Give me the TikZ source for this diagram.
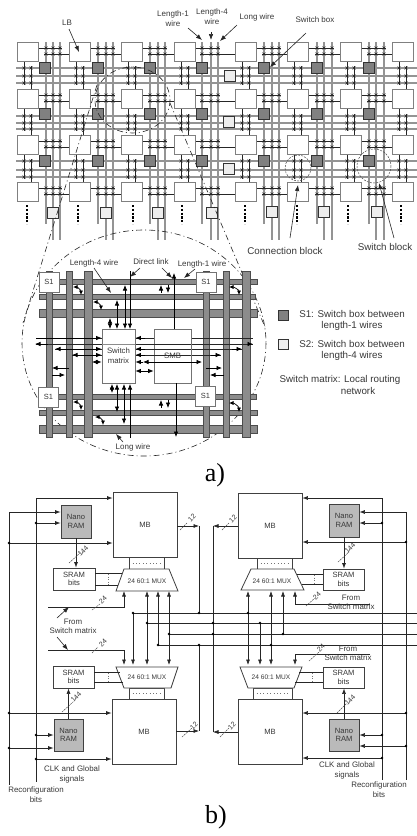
\documentclass[tikz,border=0pt]{standalone}
\usepackage{fontspec}
\setmainfont{Liberation Sans}
\newfontfamily\capfont{Liberation Serif}
\usetikzlibrary{arrows.meta}
\definecolor{ink}{gray}{0.22}
\definecolor{barg}{gray}{0.55}
\newcommand{\xmk}[2]{\draw[xmark] (#1-1.4,#2-1.4) -- (#1+1.4,#2+1.4) (#1-1.4,#2+1.4) -- (#1+1.4,#2-1.4);}
\newcommand{\fsz}[1]{\fontsize{#1}{#1}\selectfont}
\tikzset{
  xmark/.style={line width=.45pt,black!85},
  thin line/.style={line width=.55pt,black!85},
  wirebar/.style={line width=.5pt,draw=black!65,double=black!42,double distance=1.5pt},
  wirebarh/.style={line width=.5pt,draw=black!65,double=black!42,double distance=1.5pt},
  lbbox/.style={draw=black!50,line width=1pt,fill=white,minimum width=21pt,minimum height=19.5pt,inner sep=0pt},
  sonebox/.style={draw=black!80,line width=.9pt,fill=black!50,minimum size=10.5pt,inner sep=0pt},
  stwobox/.style={draw=black!80,line width=.9pt,fill=black!7,minimum size=11.5pt,inner sep=0pt},
  lab/.style={text=ink,inner sep=0pt,align=center,font=\fsz{8}},
  biglab/.style={text=ink,inner sep=0pt,align=center,font=\fsz{9.8}},
  dd/.style={line width=.6pt,black!85,dash pattern=on 6pt off 3pt on 1pt off 3pt},
  ptr/.style={line width=.6pt,black!85,-{Latex[length=6pt,width=4.5pt]}},
  arr/.style={line width=.7pt,black,-{Latex[length=5.5pt,width=4.5pt]}},
  arrb/.style={line width=.7pt,black,{Latex[length=5.5pt,width=4.5pt]}-{Latex[length=5.5pt,width=4.5pt]}},
  bar/.style={draw=black!70,line width=.5pt,fill=barg},
  iobox/.style={draw=black!55,line width=.8pt,fill=white,inner sep=0pt},
  sbox/.style={draw=black!55,line width=.8pt,fill=white,minimum width=20pt,minimum height=20pt,inner sep=0pt,text=ink,font=\fsz{7.5}},
  bbox/.style={draw=black!75,line width=.8pt,fill=white,inner sep=0pt,text=ink,align=center,font=\fsz{7.6}},
  nano/.style={bbox,fill=black!27},
  buslf/.style={line width=.65pt,black!85},
  arrbk/.style={line width=.65pt,black!85,-{Latex[length=5.5pt,width=4pt]}},
  arrbb/.style={line width=.65pt,black!85,{Latex[length=5.5pt,width=4pt]}-{Latex[length=5.5pt,width=4pt]}},
  slashm/.style={line width=.45pt,black!70,dash pattern=on 2pt off .8pt},
  dotm/.style={fill=black,draw=none},
  wlab/.style={text=ink,inner sep=0pt,rotate=45,font=\fsz{7}},
  caplab/.style={inner sep=0pt,font=\capfont\fsz{26}}
}
\begin{document}
\begin{tikzpicture}[x=1pt,y=-1pt]
\useasboundingbox (0,0) rectangle (417,836);
\fill[white] (0,0) rectangle (417,836);
% ---------- a) routing grid ----------
\foreach \y in {68,76,83,116,123,129,161,170,177}
  \draw[wirebarh] (16,\y) -- (417,\y);
\foreach \a/\b/\c in {46/53/60,98/106/113,150/158/165,202/211/218,264/272/279,317/324/332,369/376/384}{
  \draw[wirebar] (\a,42) -- (\a,224);
  \draw[wirebar] (\b,42) -- (\b,240);
  \draw[wirebar] (\c,42) -- (\c,240);
}
% connection lines, horizontal
\foreach \a/\b/\c/\lr/\nl in {46/53/60/38/69,98/106/113/90/121,150/158/165/142/174,202/211/218/195/235,264/272/279/256/287,317/324/332/309/340,369/376/384/361/392}{
  \foreach \t in {42,89,135,182}{
    \draw[thin line] (\lr,\t+6) -- (\c+2,\t+6);
    \draw[thin line] (\a-2,\t+12) -- (\nl,\t+12);
    \foreach \w in {\a,\b,\c}{\xmk{\w}{\t+6}\xmk{\w}{\t+12}}
  }
}
% connection lines, vertical
\foreach \l in {17,69,121,174,235,287,340,392}{
  \foreach \bt/\ya/\yb/\yc/\nt in {62/68/76/83/89,108/116/123/129/135,154/161/170/177/182}{
    \draw[thin line] (\l+7,\bt) -- (\l+7,\yc+2);
    \draw[thin line] (\l+14,\ya-2) -- (\l+14,\nt);
    \foreach \yy in {\ya,\yb,\yc}{\xmk{\l+7}{\yy}\xmk{\l+14}{\yy}}
  }
}
% logic blocks
\foreach \l in {17,69,121,174,235,287,340,392}{
  \foreach \t in {42,89,135,182}{
    \node[lbbox] at (\l+10.5,\t+9.75) {};
  }
}
\foreach \l in {27,78,133,182,245,297,348,401}
  \draw[line width=2pt,black,dash pattern=on 2.2pt off 1.6pt] (\l,205) -- (\l,224);
% switch boxes
\foreach \x in {45,98,150,202,264,317,369}
  \foreach \y in {68,114,161}
    \node[sonebox] at (\x,\y) {};
\foreach \x/\y in {53/213,106/213,158/213,212/213,272/212,324/212,377/212,230/76,229/122,229/169}
  \node[stwobox] at (\x,\y) {};
% zoom circles
\draw[dd] (132.5,100) ellipse [x radius=37.5,y radius=33];
\draw[dd] (144,343) ellipse [x radius=122,y radius=113];
\coordinate (zla) at (97,85); \coordinate (zlb) at (23,323);
\coordinate (zra) at (170,103); \coordinate (zrb) at (265,327);
\draw[dd] (zla) -- (zlb);
\draw[dd] (zra) -- (zrb);
\draw[line width=.5pt,black!70,dash pattern=on 2pt off 1.2pt] (298,168) circle [radius=13];
\draw[line width=.5pt,black!70,dash pattern=on 2pt off 1.2pt] (374,166) circle [radius=17];
% labels of the grid
\node[lab] (lLB) at (67,23) {LB};
\node[lab] (lLone) at (173,19) {Length-1\\[2pt]wire};
\node[lab] (lLfour) at (212,17) {Length-4\\[2pt]wire};
\node[lab] (lLong) at (257,17) {Long wire};
\node[lab] (lSwb) at (315,20) {Switch box};
\node[biglab] (lConn) at (285,251) {Connection block};
\node[biglab] (lSwbl) at (385,247) {Switch block};
\coordinate (tLB) at (79,52); \coordinate (tLone) at (202,40); \coordinate (tLfour) at (211,40);
\coordinate (tLong) at (220,41); \coordinate (tSwb) at (270,67); \coordinate (tConn) at (298,185); \coordinate (tSwbl) at (379,183);
\coordinate (fLone) at (188,28); \coordinate (fLfour) at (211,32); \coordinate (fLong) at (237,25); \coordinate (fSwb) at (306,33);
\coordinate (fConn) at (290,238); \coordinate (fSwbl) at (394,238); \coordinate (fLB) at (69,29);
\draw[ptr] (fLB) -- (tLB);
\draw[ptr] (fLone) -- (tLone);
\draw[ptr] (fLfour) -- (tLfour);
\draw[ptr] (fLong) -- (tLong);
\draw[ptr] (fSwb) -- (tSwb);
\draw[ptr] (fConn) -- (tConn);
\draw[ptr] (fSwbl) -- (tSwbl);
% ---------- a) inset ----------
\foreach \y/\w/\a/\b in {282/5/49/257,297/5/39/255,313/8/39/257,397/5/49/256,413/5/39/257,429/8/39/257}
  \filldraw[bar] (\a,\y-\w/2) rectangle (\b,\y+\w/2);
\foreach \x/\w in {49/5.5,69/6,88/8.5,206/5.5,226/6,246/8.5}
  \filldraw[bar] (\x-\w/2,271) rectangle (\x+\w/2,437);
\node[sbox] (sa) at (49,282) {S1};
\node[sbox] (sb) at (206,282) {S1};
\node[sbox] (sc) at (48.5,397) {S1};
\node[sbox] (sd) at (205.5,396) {S1};
% horizontal signals
\draw[thin line] (36,338) -- (253,338);
\draw[thin line] (36,344) -- (253,344);
\draw[thin line] (55,349) -- (242,349);
\draw[thin line] (72,355) -- (221,355);
\node[iobox,minimum width=33pt,minimum height=54pt] (sw) at (118.5,356) {};
\node[iobox,minimum width=37pt,minimum height=54pt] (smb) at (172.5,356) {};
\draw[line width=.5pt,black!45] (sw.west |- 0,344) -- (sw.east |- 0,344);
\foreach \y in {344,349,355}{
  \draw[thin line] (smb.west |- 0,\y) -- (smb.east |- 0,\y);
}
\node[text=ink,inner sep=0pt,align=center,font=\fsz{7.8}] at (sw.center) {Switch\\[2pt]matrix};
\node[text=ink,inner sep=0pt,font=\fsz{7.8}] at (smb.center) {SMB};
\draw[arr] (36,338) -- (sw.west |- 0,338);
\draw[arr] (sw.east |- 0,338) ++(10,0) -- (sw.east |- 0,338);
\draw[arr] (253,344) ++(-5,0) -- (253,344);
\draw[arr] (48,344) -- (35,344);
\draw[arrb] (55,349) -- (sw.west |- 0,349);
\draw[arrb] (72,355) -- (sw.west |- 0,355);
\draw[arrb] (92,362) -- (sw.west |- 0,362);
\draw[arr] (sw.east |- 0,349) ++(10,0) -- (sw.east |- 0,349);
\draw[arr] (sw.east |- 0,355) ++(10,0) -- (sw.east |- 0,355);
\draw[arr] (sw.east |- 0,362) ++(8,0) -- (sw.east |- 0,362);
\draw[arr] (232,349) -- (242,349);
\draw[arr] (211,355) -- (221,355);
\draw[arrb] (143,362) -- (202,362);
\draw[arrb] (sw.east |- 0,371) -- (smb.west |- 0,371);
\draw[arr] (69,368) -- (52,368);
\draw[arr] (52,375) -- (65,375);
\draw[arr] (206,368) -- (222,368);
\draw[arr] (224,375) -- (210,375);
% vertical signals
\draw[arrb] (110,318) -- (110,329);
\draw[arrb] (117,300) -- (117,329);
\draw[arrb] (125,285) -- (125,329);
\draw[arr] (130,271) -- (130,329);
\draw[arrb] (112,384) -- (112,393);
\draw[arrb] (117,384) -- (117,412);
\draw[arrb] (124,384) -- (124,424);
\draw[arr] (130,438) -- (130,384);
\draw[arr] (174,329) -- (174,273);
\draw[arr] (161,293) -- (161,285);
\draw[arr] (168,285) -- (168,293);
\draw[arr] (161,408) -- (161,400);
\draw[arr] (168,400) -- (168,408);
\draw[arr] (176,383) -- (176,437);
% curved turns
\foreach \x/\y/\u/\v in {73/287/81/295,93/302/101/310,73/402/81/410,95/417/103/425,229/287/239/295,229/403/239/412}
  \draw[line width=.7pt,black,{Latex[length=4.5pt,width=4pt]}-{Latex[length=4.5pt,width=4pt]}] (\x,\y) to[out=0,in=90] (\u,\v);
% inset labels
\node[lab] (iL4) at (94,263) {Length-4 wire};
\node[lab] (iDl) at (151,262) {Direct link};
\node[lab] (iL1) at (202,264) {Length-1 wire};
\node[lab] (iLw) at (133,447) {Long wire};
\coordinate (a1) at (94,268); \coordinate (a2) at (111,293);
\coordinate (a3) at (140,268); \coordinate (a4) at (130,277);
\coordinate (a5) at (162,268); \coordinate (a6) at (172,278);
\coordinate (a7) at (195,269); \coordinate (a8) at (184,278);
\coordinate (a9) at (123,442); \coordinate (a10) at (116,434);
\draw[ptr] (a1) -- (a2);
\draw[ptr] (a3) -- (a4);
\draw[ptr] (a5) -- (a6);
\draw[ptr] (a7) -- (a8);
\draw[ptr] (a9) -- (a10);
% legend
\node[sonebox,minimum size=10pt] (kS1) at (283.5,315) {};
\node[stwobox,minimum size=10pt] (kS2) at (283.5,344) {};
\node[biglab] at (352,320.5) {S1: Switch box between\\[1.8pt]length-1 wires};
\node[biglab] at (352,350.5) {S2: Switch box between\\[1.8pt]length-4 wires};
\node[biglab] at (340,380) {Switch matrix: Local routing};
\node[biglab] at (358,391) {network};
\node[caplab] at (215,475) {a)};
% ---------- b) ----------
\coordinate (busA) at (0,613); \coordinate (busB) at (0,623); \coordinate (busC) at (0,634); \coordinate (busD) at (0,645);
\coordinate (mU) at (0,591); \coordinate (mL) at (0,665);
% boxes
\node[bbox,minimum width=64pt,minimum height=64.5pt] (mbA) at (145,525) {MB};
\node[bbox,minimum width=64pt,minimum height=65pt] (mbB) at (270,525.5) {MB};
\node[bbox,minimum width=64pt,minimum height=65pt] (mbC) at (144,731.5) {MB};
\node[bbox,minimum width=64pt,minimum height=65pt] (mbD) at (270,731.5) {MB};
\node[nano,minimum width=30pt,minimum height=33pt] (nA) at (76,521.5) {Nano\\[1pt]RAM};
\node[nano,minimum width=30pt,minimum height=33pt] (nB) at (344,520.5) {Nano\\[1pt]RAM};
\node[nano,minimum width=29pt,minimum height=32pt] (nC) at (68.5,735) {Nano\\[1pt]RAM};
\node[nano,minimum width=30pt,minimum height=32pt] (nD) at (344,735) {Nano\\[1pt]RAM};
\node[bbox,minimum width=42pt,minimum height=22pt] (srA) at (74,579) {SRAM\\[1pt]bits};
\node[bbox,minimum width=41pt,minimum height=21pt] (srB) at (343.5,579.5) {SRAM\\[1pt]bits};
\node[bbox,minimum width=41pt,minimum height=22pt] (srC) at (73.5,677) {SRAM\\[1pt]bits};
\node[bbox,minimum width=41pt,minimum height=21pt] (srD) at (343.5,677.5) {SRAM\\[1pt]bits};
\node[bbox,draw=black!75,minimum width=35pt,minimum height=12pt] (hA) at (146.5,563) {};
\node[bbox,minimum width=35pt,minimum height=11pt] (hB) at (274.5,563.5) {};
\node[bbox,minimum width=35pt,minimum height=11pt] (hC) at (146.5,693.5) {};
\node[bbox,minimum width=39pt,minimum height=11pt] (hD) at (272.5,693.5) {};
\foreach \n in {hA,hB,hC,hD}
  \draw[line width=.6pt,black!55,dash pattern=on .8pt off 2.6pt] ([xshift=4pt]\n.west) -- ([xshift=-4pt]\n.east);
\filldraw[iobox,draw=black!75] (124,569) -- (169,569) -- (178,591) -- (116,591) -- cycle;
\filldraw[iobox,draw=black!75] (251,569) -- (294,569) -- (304,590) -- (241,590) -- cycle;
\filldraw[iobox,draw=black!75] (116,667) -- (178,667) -- (171,688) -- (124,688) -- cycle;
\filldraw[iobox,draw=black!75] (240,667) -- (302,667) -- (294,688) -- (248,688) -- cycle;
\foreach \x/\y/\n in {147/581/uA,272/581/uB,147/677/uC,271/677/uD}
  \node[text=ink,inner sep=0pt,font=\fsz{6.6}] (\n) at (\x,\y) {24 60:1 MUX};
% SRAM to MUX
\foreach \y/\xa/\xb in {573/95/122,585/95/118,672/94/120,682/94/123}
  \draw[buslf] (\xa,\y) -- (\xb,\y);
\foreach \y/\xa/\xb in {574/297/323,584/302/323,672/299/323,682/295/323}
  \draw[buslf] (\xa,\y) -- (\xb,\y);
\foreach \x/\a/\b in {108/574/585,314/575/584,108/673/682,312/673/682}
  \draw[line width=.6pt,black!55,dash pattern=on .8pt off 1.8pt] (\x,\a) -- (\x,\b);
% side buses
\draw[buslf] (9,512) -- (9,785);
\draw[buslf] (36,498) -- (36,782);
\draw[buslf] (382,498) -- (382,780);
\draw[buslf] (406,512) -- (406,780);
% arrows into boxes, left
\draw[arrbk] (9,512) -- (nA.west |- 0,512);
\draw[arrbk] (36,523) -- (nA.west |- 0,523);
\draw[arrbk] (9,543) -- (mbA.west |- 0,543);
\draw[arrbk] (36,498) -- (mbA.west |- 0,498);
\draw[arrbk] (9,713) -- (mbC.west |- 0,713);
\draw[arrbk] (36,735) -- (nC.west |- 0,735);
\draw[arrbk] (9,748) -- (nC.west |- 0,748);
\draw[arrbk] (36,759) -- (mbC.west |- 0,759);
% arrows into boxes, right
\draw[arrbk] (382,498) -- (mbB.east |- 0,498);
\draw[arrbk] (406,512) -- (nB.east |- 0,512);
\draw[arrbk] (382,523) -- (nB.east |- 0,523);
\draw[arrbk] (406,542) -- (mbB.east |- 0,542);
\draw[arrbk] (406,713) -- (mbD.east |- 0,713);
\draw[arrbk] (382,735) -- (nD.east |- 0,735);
\draw[arrbk] (406,746) -- (nD.east |- 0,746);
\draw[arrbk] (382,758) -- (mbD.east |- 0,758);
\foreach \x/\y in {9/543,36/523,9/713,36/735,9/748,36/759,382/523,406/542,406/713,382/735,406/746,382/758}
  \fill[dotm] (\x,\y) circle [radius=1.3];
% Nano to SRAM
\draw[arrbk] (nA.south) ++(0,0) -- (nA.south |- srA.north);
\draw[arrbk] (nB.south) -- (nB.south |- srB.north);
\draw[arrbk] (nC.north) -- (nC.north |- srC.south);
\draw[arrbk] (nD.north) -- (nD.north |- srD.south);
% MB outputs and their risers
\draw[arrbk] (mbA.east |- 0,526) -- (199,526);
\draw[arrbk] (mbC.east |- 0,731) -- (199,731);
\draw[arrbk] (mbB.west |- 0,526) -- (213,526);
\draw[arrbk] (mbD.west |- 0,732) -- (213,732);
\draw[buslf] (199,526) -- (199,0 |- busA);
\draw[buslf] (199,0 |- busD) -- (199,731);
\draw[buslf] (213,526) -- (213,732);
% horizontal buses
\draw[buslf] (133,0 |- busA) -- (417,0 |- busA);
\draw[buslf] (147,0 |- busB) -- (417,0 |- busB);
\draw[buslf] (169,0 |- busC) -- (417,0 |- busC);
\draw[buslf] (158,0 |- busD) -- (417,0 |- busD);
% bus to MUX
\draw[arrbk] (133,0 |- busA) -- (133,0 |- mL);
\draw[arrbb] (147,0 |- mU) -- (147,0 |- mL);
\draw[arrbk] (158,0 |- busD) -- (158,0 |- mU);
\draw[arrbb] (169,0 |- mU) -- (169,0 |- mL);
\draw[arrbb] (248,0 |- mU) -- (248,0 |- mL);
\draw[arrbk] (260,0 |- busB) -- (260,0 |- mL);
\draw[arrbb] (271,0 |- mU) -- (271,0 |- mL);
\draw[arrbk] (283,0 |- busC) -- (283,0 |- mU);
\foreach \x/\b in {133/busA,147/busB,158/busD,169/busC,199/busA,199/busD,213/busB,213/busC,248/busA,260/busB,271/busD,283/busC}
  \fill[dotm] (\x,0 |- \b) circle [radius=1.3];
% switch matrix inputs
\coordinate (swa) at (48,607); \coordinate (swb) at (48,650); \coordinate (swc) at (370,604); \coordinate (swd) at (370,654);
\draw[arrbk] (swa) -- (124,607) -- (124,0 |- mU);
\draw[arrbk] (swb) -- (124,650) -- (124,0 |- mL);
\draw[arrbk] (swc) -- (295,604) -- (295,0 |- mU);
\draw[arrbk] (swd) -- (295,654) -- (295,0 |- mL);
% slashes
\foreach \xa/\ya/\xb/\yb in {180/530/187/523,69/563/80/553,92/610/100/604,92/653/98/647,309/661/319/652,306/606/315/598,338/562/349/552,337/713/347/703,62/712/73/702,222/530/229/523,182/737/192/728,220/737/229/728}
  \draw[slashm] (\xa,\ya) -- (\xb,\yb);
\foreach \x/\y/\t in {192/518/12,233/519/12,194/726/12,232/726/12,83/551/144,350/548/144,76/697/144,350/700/144,103/600/24,103/643/24,317/596/24,321/648/24}
  \node[wlab] at (\x,\y) {\t};
% text of b
\node[lab,font=\fsz{7.9}] (tf1) at (73,626.5) {From\\[1.5pt]Switch matrix};
\node[lab,font=\fsz{7.9}] (tf2) at (351,602.5) {From\\[1.5pt]Switch matrix};
\node[lab,font=\fsz{7.9}] (tf3) at (348,653.5) {From\\[1.5pt]Switch matrix};
\coordinate (p1) at (57,618); \coordinate (p2) at (69,607); \coordinate (p3) at (57,637); \coordinate (p4) at (68,650);
\draw[ptr] (p1) -- (p2);
\draw[ptr] (p3) -- (p4);
\node[lab,font=\fsz{7.9}] at (72,774.5) {CLK and Global\\[1.5pt]signals};
\node[lab,font=\fsz{7.9}] at (36,794.5) {Reconfiguration\\[1.5pt]bits};
\node[lab,font=\fsz{7.9}] at (347,770.5) {CLK and Global\\[1.5pt]signals};
\node[lab,font=\fsz{7.9}] at (379,789.5) {Reconfiguration\\[1.5pt]bits};
\node[caplab] at (216,817) {b)};
\end{tikzpicture}
\end{document}
